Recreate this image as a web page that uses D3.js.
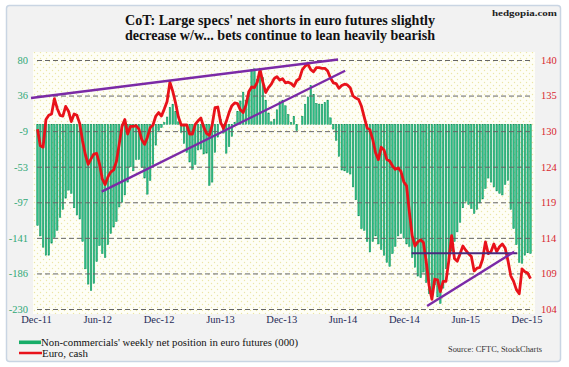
<!DOCTYPE html>
<html><head><meta charset="utf-8">
<script src="https://cdn.jsdelivr.net/npm/d3@7"></script>
<style>
html,body{margin:0;padding:0;background:#fff;}
svg{display:block;}
text{font-family:"Liberation Serif","Times New Roman",serif;}
</style></head>
<body>
<svg id="chart" width="569" height="367"></svg>
<script>
// ---- data ----
const xLabels = ["Dec-11","Jun-12","Dec-12","Jun-13","Dec-13","Jun-14","Dec-14","Jun-15","Dec-15"];
const leftTickLabels = ["-230","-186","-141","-97","-53","-9","36","80"];
const rightTickLabels = ["104","109","114","119","124","130","135","140"];

// Non-commercials' weekly net position in euro futures (000)
const netPositions = [
-126,-139,-153,-163,-163,-148,-141,-132,-116,-106,
-92,-82,-86,-104,-113,-118,-146,-180,-199,-207,
-198,-171,-151,-161,-166,-150,-136,-128,-121,-103,
-97,-88,-72,-53,-58,-44,-44,-54,-67,-87,
-70,-50,-26,-8,-4,2,9,21,25,16,
3,-10,-24,-35,-47,-56,-50,-32,-31,-37,
-36,-76,-72,-35,-16,6,-11,-36,-28,-15,
2,16,29,40,30,40,68,69,56,69,
58,30,14,3,6,18,28,30,23,12,
2,10,-8,0,10,25,34,48,37,26,
25,25,27,30,8,-6,-20,-40,-57,-58,
-60,-62,-78,-94,-114,-130,-132,-146,-159,-146,
-139,-149,-156,-163,-172,-177,-161,-152,-139,-136,
-142,-149,-152,-166,-178,-189,-191,-184,-197,-211,
-208,-200,-215,-223,-204,-180,-169,-158,-146,-134,
-122,-104,-96,-100,-105,-111,-106,-98,-93,-80,
-67,-72,-78,-83,-86,-88,-75,-70,-106,-130,
-150,-172,-173,-163,-160,-161];

// Euro, cash (right axis)
const euroCash = [
130.0,127.6,127.4,131.4,132.0,132.2,134.4,133.0,132.0,131.9,
133.3,132.6,131.1,132.2,132.0,130.8,128.3,126.3,124.9,125.7,
126.4,126.5,125.0,122.8,122.0,123.1,123.8,124.1,125.3,127.8,
130.4,131.4,129.3,130.4,130.4,130.5,130.0,128.5,127.8,128.8,
130.2,130.6,131.9,132.4,131.9,132.9,134.0,136.8,135.5,133.8,
131.8,130.6,130.6,130.6,129.3,129.3,130.7,131.2,131.6,130.3,
129.4,129.1,130.6,133.1,133.2,131.0,130.1,131.1,132.4,133.4,
133.8,133.7,132.8,132.4,133.5,135.4,136.1,136.0,136.8,138.6,
136.8,135.3,136.0,136.5,137.3,137.6,137.1,137.3,136.7,136.8,
136.6,136.2,137.0,137.3,138.6,139.1,139.4,138.6,138.3,138.9,
138.9,138.8,138.8,138.4,137.4,136.7,136.6,135.9,136.3,136.5,
136.4,136.0,134.8,134.5,134.3,133.3,131.7,130.2,129.9,128.5,
126.6,125.6,127.4,127.0,125.6,125.4,124.7,124.2,124.4,123.9,
122.4,121.8,118.0,114.6,113.1,113.7,114.0,113.6,110.8,107.4,
105.4,108.3,108.2,106.5,108.0,108.0,111.0,114.6,111.3,110.9,
112.0,113.1,112.5,112.0,111.6,109.5,109.9,110.0,111.2,113.7,
112.0,112.3,113.4,112.3,113.0,113.4,112.8,111.0,108.8,108.0,
106.8,106.2,109.8,109.4,109.2,108.4];

// trend lines drawn on the chart (week index, euro level)
const trendStart = [[-2.3,134.5],[22.8,120.96],[132.8,112.05],[138.3,104.43]];
const trendEnd   = [[106.7,140.07],[109.2,138.45],[170.3,112.05],[169.2,112.28]];
const trendColor = ["#7b2aa6","#7b2aa6","#4a2a7c","#7b2aa6"];

// ---- drawing ----
const svg = d3.select("#chart");
const N = netPositions.length;
const x = d3.scaleLinear().domain([0, N-1]).range([37.5, 530.5]);
const yL = d3.scaleLinear().domain([-230, 80]).range([309, 60]);
const yR = d3.scaleLinear().domain([104, 140]).range([309, 60]);

const defs = svg.append("defs");
const pat = defs.append("pattern").attr("id","dots").attr("width",6).attr("height",6)
  .attr("patternUnits","userSpaceOnUse");
pat.append("rect").attr("width",6).attr("height",6).attr("fill","#fefef6");
pat.append("circle").attr("cx",1.5).attr("cy",1.5).attr("r",0.7).attr("fill","#ece6a6");
pat.append("circle").attr("cx",4.5).attr("cy",4.5).attr("r",0.7).attr("fill","#ece6a6");

// frame
svg.append("rect").attr("x",6.5).attr("y",5.5).attr("width",554).attr("height",356)
  .attr("rx",3).attr("fill","#f2f2f2").attr("stroke","#c9d5e3").attr("stroke-width",1.5);
// plot background
svg.append("rect").attr("x",33).attr("y",52).attr("width",502).attr("height",262)
  .attr("fill","url(#dots)");

// bars
const bw = 1.5;
svg.append("g").selectAll("rect").data(netPositions).join("rect")
  .attr("x",(d,i)=>x(i)-bw/2)
  .attr("y",d=>Math.min(yL(d),yL(0)))
  .attr("width",bw)
  .attr("height",d=>Math.abs(yL(d)-yL(0)))
  .attr("fill","#2dc08a").attr("stroke","#0f8f58").attr("stroke-width",0.5);

// gridlines + left axis
const leftTickVals = d3.range(8).map(k => -230 + k*310/7);
const gl = svg.append("g").attr("transform","translate(37,0)")
  .call(d3.axisLeft(yL).tickValues(leftTickVals).tickSize(-493)
    .tickFormat((d,i)=>leftTickLabels[i]).tickPadding(9));
gl.select(".domain").remove();
gl.selectAll(".tick line").attr("stroke","#666").attr("stroke-width",1).attr("stroke-dasharray","5,3");
gl.selectAll(".tick text").attr("fill","#2fa877").attr("font-size",10.5)
  .attr("font-family","Liberation Serif, serif");

// right axis
const rightTickVals = d3.range(8).map(k => 104 + k*36/7);
const gr = svg.append("g").attr("transform","translate(541,0)")
  .call(d3.axisRight(yR).tickValues(rightTickVals).tickSize(0)
    .tickFormat((d,i)=>rightTickLabels[i]).tickPadding(0));
gr.select(".domain").remove();
gr.selectAll(".tick text").attr("fill","#d8262e").attr("font-size",10.5)
  .attr("font-family","Liberation Serif, serif");

// x axis labels
const xl = d3.scalePoint().domain(xLabels).range([x(0)-1.5, x(N-1)-4]);
const gx = svg.append("g").attr("transform","translate(0,311)")
  .call(d3.axisBottom(xl).tickSize(0).tickPadding(5));
gx.select(".domain").remove();
gx.selectAll(".tick text").attr("fill","#1f2a57").attr("font-size",10.5)
  .attr("font-family","Liberation Serif, serif");

// euro line
svg.append("path").datum(euroCash)
  .attr("d", d3.line().x((d,i)=>x(i)).y(d=>yR(d)).curve(d3.curveLinear))
  .attr("fill","none").attr("stroke","#e8121a").attr("stroke-width",2.8)
  .attr("stroke-linejoin","round");

// trend lines
svg.append("g").selectAll("line").data(trendStart).join("line")
  .attr("x1",d=>x(d[0])).attr("y1",d=>yR(d[1]))
  .attr("x2",(d,i)=>x(trendEnd[i][0])).attr("y2",(d,i)=>yR(trendEnd[i][1]))
  .attr("stroke",(d,i)=>trendColor[i]).attr("stroke-width",(d,i)=>i===2?2:2.4);

// title
svg.append("text").attr("x",280).attr("y",25).attr("text-anchor","middle")
  .attr("font-size",14.5).attr("font-weight","bold").attr("fill","#111")
  .attr("textLength",310).attr("lengthAdjust","spacingAndGlyphs")
  .text("CoT: Large specs' net shorts in euro futures slightly");
svg.append("text").attr("x",280).attr("y",40).attr("text-anchor","middle")
  .attr("font-size",14.5).attr("font-weight","bold").attr("fill","#111")
  .attr("textLength",310).attr("lengthAdjust","spacingAndGlyphs")
  .text("decrease w/w... bets continue to lean  heavily bearish");
svg.append("text").attr("x",557).attr("y",16).attr("text-anchor","end")
  .attr("font-size",9).attr("font-weight","bold").attr("fill","#222")
  .attr("textLength",65).attr("lengthAdjust","spacingAndGlyphs")
  .text("hedgopia.com");

// legend
svg.append("rect").attr("x",19).attr("y",340.5).attr("width",22).attr("height",3.6).attr("fill","#17ad68");
svg.append("text").attr("x",41).attr("y",346).attr("font-size",10.5).attr("fill","#111")
  .attr("textLength",257).attr("lengthAdjust","spacingAndGlyphs")
  .text("Non-commercials' weekly net position in euro futures (000)");
svg.append("line").attr("x1",19).attr("x2",42).attr("y1",353).attr("y2",353)
  .attr("stroke","#e8121a").attr("stroke-width",2.5);
svg.append("text").attr("x",42).attr("y",357).attr("font-size",10.5).attr("fill","#111")
  .attr("textLength",46).attr("lengthAdjust","spacingAndGlyphs")
  .text("Euro, cash");
svg.append("text").attr("x",542).attr("y",352).attr("text-anchor","end")
  .attr("font-size",7.5).attr("fill","#333")
  .attr("textLength",94).attr("lengthAdjust","spacingAndGlyphs")
  .text("Source: CFTC, StockCharts");
</script>
</body></html>
